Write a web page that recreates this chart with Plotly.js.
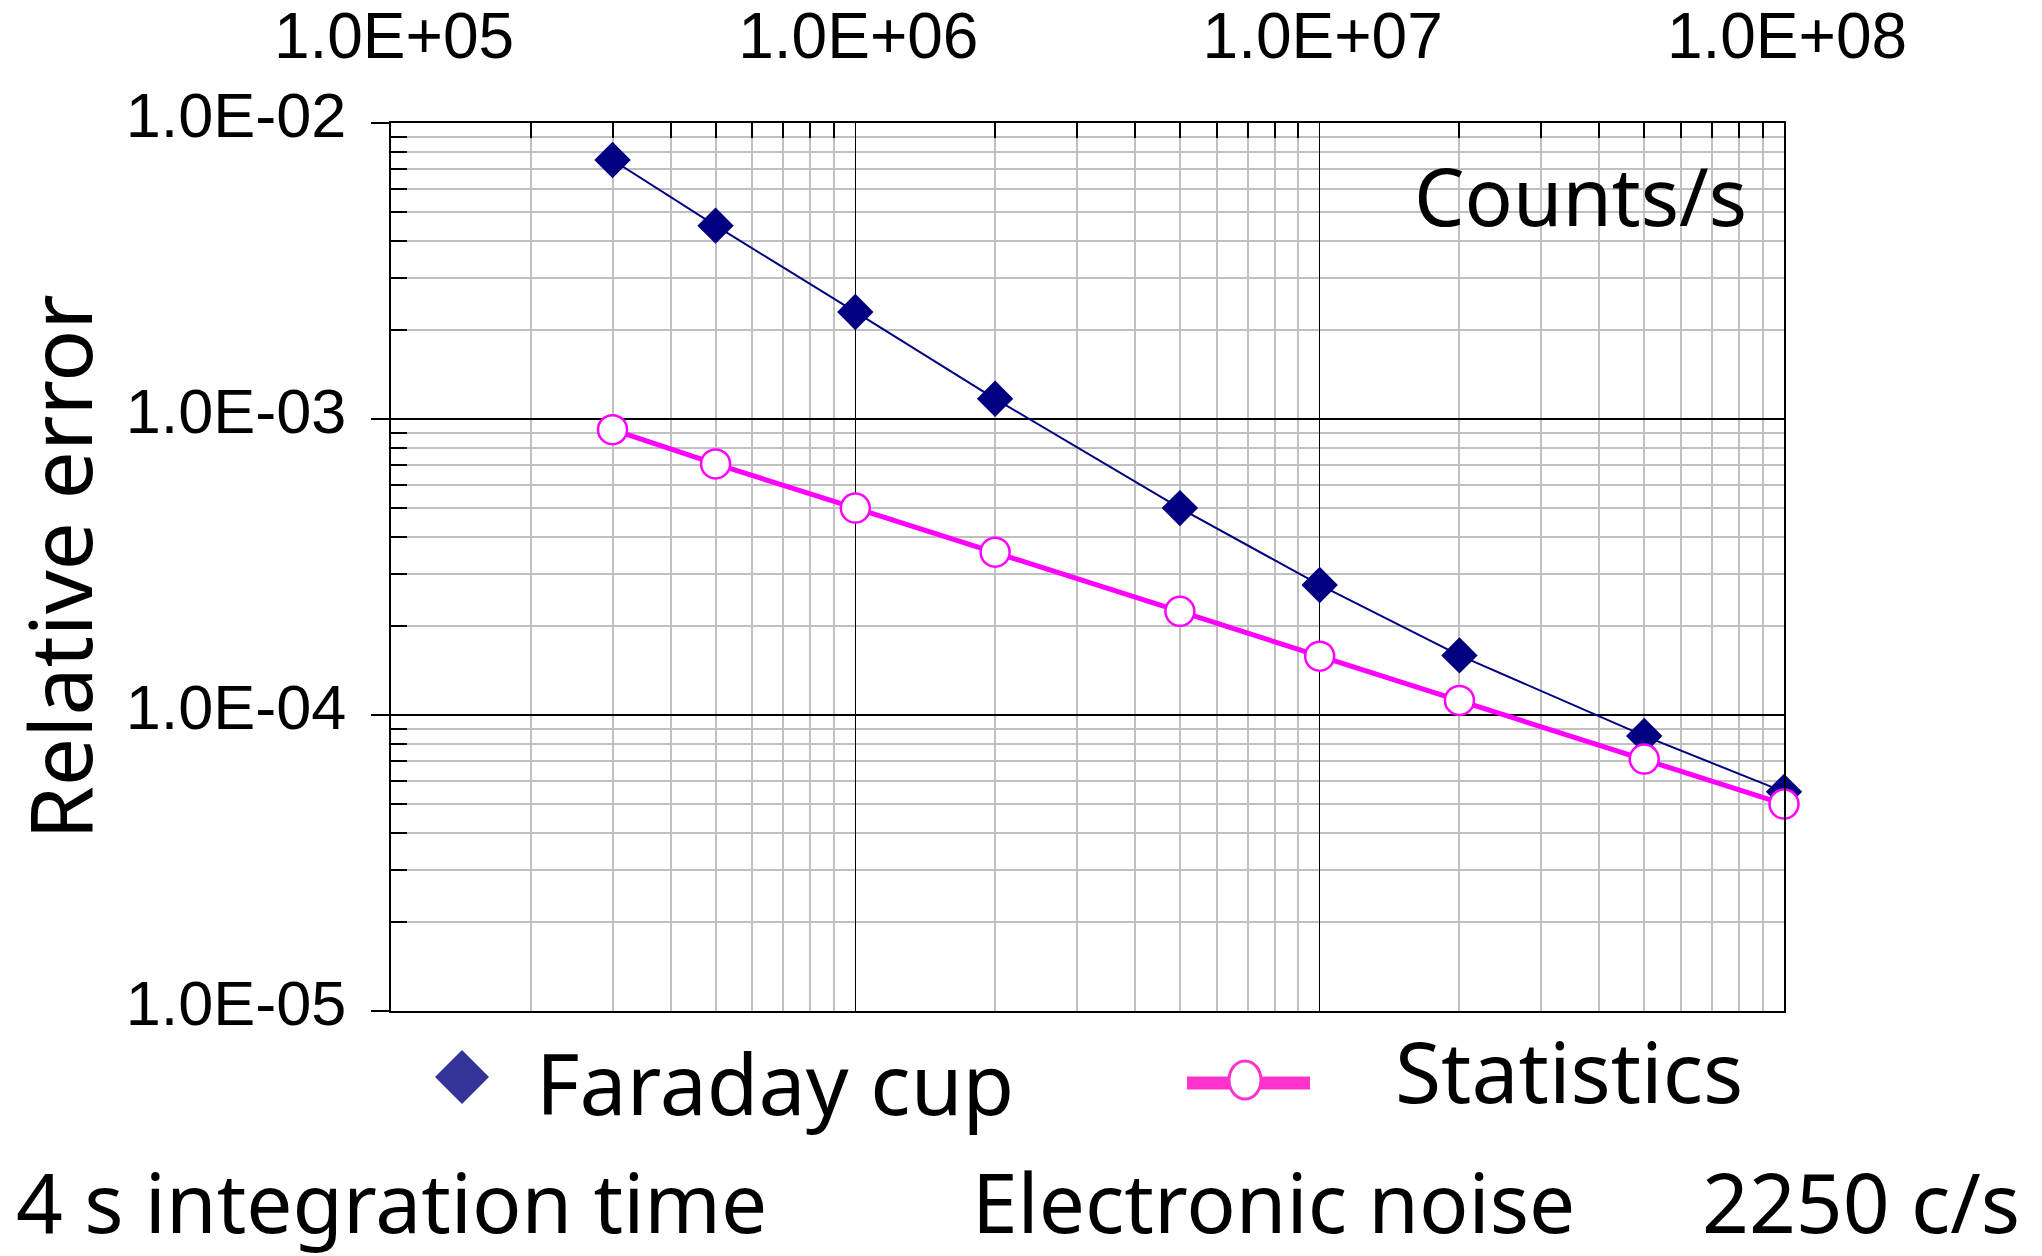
<!DOCTYPE html>
<html>
<head>
<meta charset="utf-8">
<script src="https://cdn.plot.ly/plotly-3.0.1.min.js"></script>
<style>html,body{margin:0;padding:0;background:#fff;}#chart{width:2042px;height:1256px;}</style>
</head>
<body>
<div id="chart"></div>
<script>
// ---- data ----
const countRates = [3e5, 5e5, 1e6, 2e6, 5e6, 1e7, 2e7, 5e7, 1e8];
const faradayCup = [7.5e-3, 4.5e-3, 2.3e-3, 1.17e-3, 5.0e-4, 2.75e-4, 1.59e-4, 8.5e-5, 5.5e-5];
const statistics = [9.2e-4, 7.05e-4, 5.0e-4, 3.55e-4, 2.24e-4, 1.58e-4, 1.12e-4, 7.1e-5, 5.0e-5];
const xTickVals = [1e5, 1e6, 1e7, 1e8];
const xTickText = ["1.0E+05", "1.0E+06", "1.0E+07", "1.0E+08"];
const yTickVals = [1e-5, 1e-4, 1e-3, 1e-2];
const yTickText = ["1.0E-05", "1.0E-04", "1.0E-03", "1.0E-02"];
const seriesNames = ["Faraday cup", "Statistics"];
const yTitle = "Relative error";
const unitLabel = "Counts/s";
const footLeft = "4 s integration time";
const footMid = "Electronic noise";
const footRight = "2250 c/s";

// ---- layout geometry (pixels) ----
const W = 2042, H = 1256;
const PL = 391, PR = 1784, PT = 123, PB = 1011;
const px = p => (p - PL) / (PR - PL);
const py = p => (PB - p) / (PB - PT);

const comic = "Comic Sans MS, 'Noto Sans', sans-serif";
const arial = "'Liberation Sans', Arial, sans-serif";

const traces = [
  {
    x: countRates, y: faradayCup, name: seriesNames[0], type: "scatter", mode: "lines+markers",
    line: {color: "#000080", width: 2},
    marker: {symbol: "diamond", size: 28, color: "#000080", line: {width: 0}},
    cliponaxis: false, showlegend: false
  },
  {
    x: countRates, y: statistics, name: seriesNames[1], type: "scatter", mode: "lines+markers",
    line: {color: "#FF00FF", width: 5},
    marker: {symbol: "circle", size: 29, color: "#FFFFFF", line: {color: "#FF00FF", width: 2.5}},
    cliponaxis: false, showlegend: false
  }
];

const minorTicks = (lo, hi) => {
  const v = [];
  for (let e = lo; e < hi; e++) for (let k = 2; k <= 9; k++) v.push(k * Math.pow(10, e));
  return v;
};

const layout = {
  width: W, height: H, autosize: false,
  paper_bgcolor: "#FFFFFF", plot_bgcolor: "#FFFFFF",
  margin: {l: PL, r: W - PR, t: PT, b: H - PB, pad: 0},
  showlegend: false,
  xaxis: {
    type: "log", side: "top", range: [5, 8],
    tickmode: "array", tickvals: xTickVals, ticktext: xTickText,
    ticks: "", ticklabelstandoff: 37, ticklabelshift: 3,
    tickfont: {family: arial, size: 64, color: "#000"},
    showgrid: true, gridcolor: "#000000", gridwidth: 1.5,
    showline: true, linecolor: "#000", linewidth: 2, mirror: true,
    zeroline: false,
    minor: {tickmode: "array", tickvals: minorTicks(5, 8), ticks: "inside", ticklen: 15, tickwidth: 2, tickcolor: "#000",
            showgrid: true, gridcolor: "#C0C0C0", gridwidth: 2}
  },
  yaxis: {
    type: "log", range: [-5, -2],
    tickmode: "array", tickvals: yTickVals, ticktext: yTickText,
    ticks: "outside", ticklen: 18, tickwidth: 2, tickcolor: "#000",
    ticklabelstandoff: 12, ticklabelshift: -8,
    tickfont: {family: arial, size: 63, color: "#000"},
    showgrid: true, gridcolor: "#000000", gridwidth: 1.5,
    showline: true, linecolor: "#000", linewidth: 2, mirror: true,
    zeroline: false,
    title: {text: yTitle, font: {family: comic, size: 86, color: "#000"}, standoff: 32},
    minor: {tickmode: "array", tickvals: minorTicks(-5, -2), ticks: "inside", ticklen: 16, tickwidth: 2, tickcolor: "#000",
            showgrid: true, gridcolor: "#C0C0C0", gridwidth: 2}
  },
  annotations: [
    {text: unitLabel, xref: "paper", yref: "paper", x: px(1580), y: py(194), xanchor: "center", yanchor: "middle",
     showarrow: false, font: {family: comic, size: 80, color: "#000"}},
    {text: seriesNames[0], xref: "paper", yref: "paper", x: px(775), y: py(1082), xanchor: "center", yanchor: "middle",
     showarrow: false, font: {family: comic, size: 84, color: "#000"}},
    {text: seriesNames[1], xref: "paper", yref: "paper", x: px(1569), y: py(1070), xanchor: "center", yanchor: "middle",
     showarrow: false, font: {family: comic, size: 84, color: "#000"}},
    {text: footLeft, xref: "paper", yref: "paper", x: px(14), y: py(1201), xanchor: "left", yanchor: "middle",
     showarrow: false, font: {family: comic, size: 82, color: "#000"}},
    {text: footMid, xref: "paper", yref: "paper", x: px(1273), y: py(1201), xanchor: "center", yanchor: "middle",
     showarrow: false, font: {family: comic, size: 82, color: "#000"}},
    {text: footRight, xref: "paper", yref: "paper", x: px(2022), y: py(1201), xanchor: "right", yanchor: "middle",
     showarrow: false, font: {family: comic, size: 82, color: "#000"}}
  ],
  shapes: [
    {type: "path", xref: "paper", yref: "paper", xsizemode: "pixel", ysizemode: "pixel",
     xanchor: px(462), yanchor: py(1077), path: "M-27,0L0,27L27,0L0,-27Z",
     fillcolor: "#333399", line: {width: 0}},
    {type: "line", xref: "paper", yref: "paper", x0: px(1187), x1: px(1310), y0: py(1083), y1: py(1083),
     line: {color: "#FF33CC", width: 13}},
    {type: "circle", xref: "paper", yref: "paper", xsizemode: "pixel", ysizemode: "pixel",
     xanchor: px(1245), yanchor: py(1080), x0: -16, x1: 16, y0: -19, y1: 19,
     fillcolor: "#FFFFFF", line: {color: "#FF33CC", width: 3}}
  ]
};

Plotly.newPlot("chart", traces, layout, {displayModeBar: false, staticPlot: true});
</script>
</body>
</html>
